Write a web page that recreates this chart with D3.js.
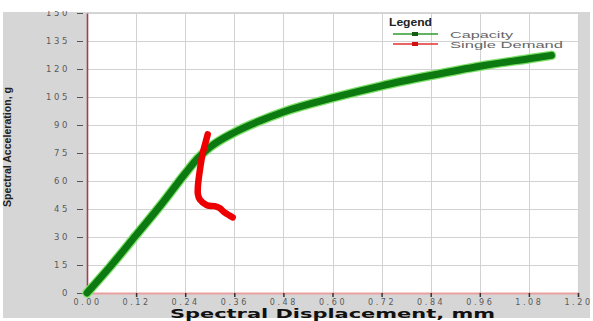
<!DOCTYPE html>
<html>
<head>
<meta charset="utf-8">
<script src="https://cdn.jsdelivr.net/npm/d3@7/dist/d3.min.js"></script>
<style>
  html, body { margin: 0; padding: 0; background: #fff; }
  svg { display: block; }
</style>
</head>
<body>
<svg id="chart" width="593" height="321"></svg>
<script>
// Capacity (pushover) curve: spectral displacement (mm) vs spectral acceleration (g)
const capacityDisp  = [0, 0.06, 0.12, 0.18, 0.24, 0.27, 0.30, 0.36, 0.42, 0.48, 0.60, 0.72, 0.84, 0.96, 1.08, 1.135];
const capacityAccel = [0, 15, 31, 47, 64, 72, 78, 86, 92, 97, 104.5, 111, 116.5, 121.5, 125.5, 127.3];

// Single demand spectrum trace
const demandDisp  = [0.295, 0.289, 0.283, 0.276, 0.271, 0.271, 0.276, 0.293, 0.312, 0.324, 0.337, 0.356];
const demandAccel = [85, 80, 75, 66, 57, 53, 50, 47, 46.5, 45.5, 43, 40.5];

const xTicks = [0, 0.12, 0.24, 0.36, 0.48, 0.60, 0.72, 0.84, 0.96, 1.08, 1.20];
const yTicks = [0, 15, 30, 45, 60, 75, 90, 105, 120, 135, 150];

const seriesNames = ["Capacity", "Single Demand"];

const svg = d3.select("#chart");
const W = 593, H = 321;
const plot = { left: 87, right: 578, top: 13, bottom: 293 };

const x = d3.scaleLinear().domain([0, 1.2]).range([plot.left, plot.right]);
const y = d3.scaleLinear().domain([0, 150]).range([plot.bottom, plot.top]);

// Outer grey panel
svg.append("rect").attr("x", 3).attr("y", 12).attr("width", 587).attr("height", 306).attr("fill", "#d6d6d6");

// Plot area
svg.append("rect")
  .attr("x", plot.left).attr("y", plot.top)
  .attr("width", plot.right - plot.left).attr("height", plot.bottom - plot.top)
  .attr("fill", "#ffffff");

// Grid lines
const grid = svg.append("g").attr("stroke", "#d2d2d2").attr("stroke-width", 1);
grid.selectAll("line.v").data(xTicks.slice(1)).join("line")
  .attr("x1", d => Math.round(x(d)) + 0.5).attr("x2", d => Math.round(x(d)) + 0.5)
  .attr("y1", plot.top).attr("y2", plot.bottom);
grid.selectAll("line.h").data(yTicks.slice(1)).join("line")
  .attr("y1", d => Math.round(y(d)) + 0.5).attr("y2", d => Math.round(y(d)) + 0.5)
  .attr("x1", plot.left).attr("x2", plot.right);

// Axes
const tickFont = "'DejaVu Sans', sans-serif";
const xAxis = svg.append("g")
  .attr("transform", `translate(0,${plot.bottom})`)
  .call(d3.axisBottom(x).tickValues(xTicks).tickFormat(d3.format(".2f")).tickSize(4).tickPadding(2));
xAxis.select(".domain").attr("stroke", "#eaa0a0").attr("stroke-width", 2);
xAxis.selectAll(".tick line").attr("stroke", "#333").attr("stroke-width", 1.5);
xAxis.selectAll(".tick text")
  .attr("fill", "#5a5a5a").style("font-family", tickFont).style("font-size", "8px")
  .style("letter-spacing", "2.6px");

const yAxis = svg.append("g")
  .attr("transform", `translate(${plot.left},0)`)
  .call(d3.axisLeft(y).tickValues(yTicks).tickFormat(d3.format("d")).tickSize(0).tickPadding(17));
yAxis.select(".domain").attr("stroke", "#a04050").attr("stroke-width", 1.6);
yAxis.selectAll(".tick text")
  .attr("fill", "#5a5a5a").style("font-family", tickFont).style("font-size", "8.5px")
  .style("letter-spacing", "2.6px");
yAxis.selectAll(".tick").append("line")
  .attr("x1", -10).attr("x2", -4).attr("stroke", "#555").attr("stroke-width", 1);

// Series lines
const line = d3.line().x(d => x(d[0])).y(d => y(d[1])).curve(d3.curveMonotoneX);
const capacity = capacityDisp.map((d, i) => [d, capacityAccel[i]]);
const demand = demandDisp.map((d, i) => [d, demandAccel[i]]);
const demandLine = d3.line().x(d => x(d[0])).y(d => y(d[1])).curve(d3.curveCatmullRom);

svg.append("path").datum(capacity).attr("d", line)
  .attr("fill", "none").attr("stroke", "#7ee06a").attr("stroke-width", 9.5).attr("stroke-linecap", "round");
svg.append("path").datum(capacity).attr("d", line)
  .attr("fill", "none").attr("stroke", "#0c7a10").attr("stroke-width", 7).attr("stroke-linecap", "round");

svg.append("path").datum(demand).attr("d", demandLine)
  .attr("fill", "none").attr("stroke", "#ee0000").attr("stroke-width", 6.5)
  .attr("stroke-linecap", "round").attr("stroke-linejoin", "round");

// Legend
const legend = svg.append("g").attr("font-family", "'Liberation Sans', Arial, sans-serif");
legend.append("text").attr("x", 389).attr("y", 26)
  .attr("font-size", "10.5px").attr("font-weight", "bold").attr("fill", "#222")
  .attr("textLength", 43).attr("lengthAdjust", "spacingAndGlyphs").text("Legend");
const legendColors = ["#2e9a2e", "#e43030"];
const legendWidths = [63, 113];
seriesNames.forEach((name, i) => {
  const ly = 34 + i * 10;
  legend.append("line").attr("x1", 393).attr("x2", 438).attr("y1", ly).attr("y2", ly)
    .attr("stroke", legendColors[i]).attr("stroke-width", 1.5);
  legend.append("rect").attr("x", 412).attr("y", ly - 2).attr("width", 6).attr("height", 4)
    .attr("fill", i === 0 ? "#155d15" : "#d01010");
  legend.append("text").attr("x", 450).attr("y", ly + 3.5)
    .attr("font-size", "9.5px").attr("fill", "#666")
    .attr("textLength", legendWidths[i]).attr("lengthAdjust", "spacingAndGlyphs").text(name);
});

// Axis titles
svg.append("text")
  .attr("x", 170).attr("y", 318)
  .attr("textLength", 325).attr("lengthAdjust", "spacingAndGlyphs")
  .attr("font-family", "'DejaVu Sans', sans-serif").attr("font-weight", "bold")
  .attr("font-size", "11.5px").attr("fill", "#111")
  .text("Spectral Displacement, mm");

svg.append("text")
  .attr("transform", "translate(11,207) rotate(-90)")
  .attr("textLength", 120).attr("lengthAdjust", "spacingAndGlyphs")
  .attr("font-family", "'Liberation Sans Narrow', 'Liberation Sans', sans-serif").attr("font-weight", "bold")
  .attr("font-size", "10.5px").attr("fill", "#222")
  .text("Spectral Acceleration, g");

// White band across the top edge
svg.append("rect").attr("x", 0).attr("y", 0).attr("width", W).attr("height", 11).attr("fill", "#ffffff");
</script>
</body>
</html>
